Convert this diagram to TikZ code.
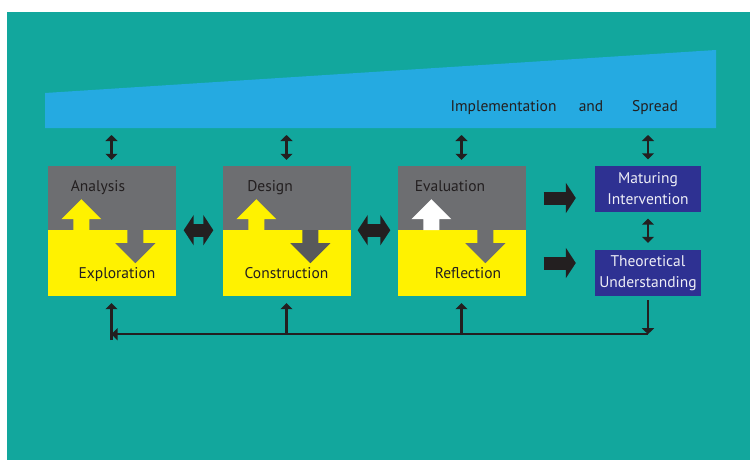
\documentclass[tikz,border=0pt]{standalone}
\usepackage{fontspec}
\setmainfont{PT Sans}
\usetikzlibrary{arrows.meta,calc}

\definecolor{bgteal}{HTML}{12A79D}
\definecolor{wedgeblue}{HTML}{25AAE1}
\definecolor{boxgray}{HTML}{6D6E71}
\definecolor{boxdark}{HTML}{58595B}
\definecolor{boxyellow}{HTML}{FFF200}
\definecolor{navybox}{HTML}{2E3192}
\definecolor{ink}{HTML}{231F20}

\tikzstyle{every node}=[font=\fontsize{15.5}{21}\selectfont, text=ink, inner sep=0pt]
\tikzstyle{lbl}=[anchor=base]
\tikzstyle{graybox}=[fill=boxgray, minimum width=128pt, minimum height=64pt]
\tikzstyle{yellowbox}=[fill=boxyellow, minimum width=128pt, minimum height=66pt]
\tikzstyle{outbox}=[fill=navybox, text=white!92!navybox, minimum width=106pt, minimum height=46pt, align=center]
\tikzstyle{fat}=[draw=ink, line width=13pt]
\tikzset{
  fattip/.tip={Triangle[length=10pt,width=30pt]},
  thintip/.tip={Triangle[length=6pt,width=12pt]},
  link/.style={draw=ink, line width=2.2pt, -thintip}
}

\begin{document}
\begin{tikzpicture}[x=1pt,y=-1pt]
  \useasboundingbox (0,0) rectangle (750,460);
  \fill[bgteal] (7,12) rectangle (750,460);
  % implementation and spread
  \fill[wedgeblue] (45,93) -- (716,50) -- (716,128) -- (45,128) -- cycle;
  \coordinate (ws) at (0,128);
  \node[lbl] (impl) at (503.5,111) {Implementation};
  \node[lbl] (and) at (591,111) {and};
  \node[lbl] (spread) at (655,111) {Spread};

  % the three phases
  \node[graybox] (ana) at (111.5,198) {};
  \node[yellowbox] (exp) at (111.5,263) {};
  \node[graybox] (des) at (286.5,198) {};
  \node[yellowbox] (con) at (286.5,263) {};
  \node[graybox] (eva) at (461.5,198) {};
  \node[yellowbox] (ref) at (461.5,263) {};

  \foreach \g/\up/\dn in {ana/boxyellow/boxgray, des/boxyellow/boxdark, eva/white/boxgray} {
    \fill[\up] ($(\g.south west)+(26,0)$) -- ++(0,-11) -- ++(-12,0) -- ++(20,-20)
      -- ++(20,20) -- ++(-12,0) -- ++(0,11) -- cycle;
    \fill[\dn] ($(\g.south west)+(80,0)$) -- ++(0,13) -- ++(-12,0) -- ++(20,20)
      -- ++(20,-20) -- ++(-12,0) -- ++(0,-13) -- cycle;
  }

  \node[lbl] (analbl) at ([xshift=-13.5pt,yshift=6.5pt]ana.center) {Analysis};
  \node[lbl] (explbl) at ([xshift=5.5pt,yshift=-15pt]exp.center) {Exploration};
  \node[lbl] (deslbl) at ([xshift=-16.5pt,yshift=6.5pt]des.center) {Design};
  \node[lbl] (conlbl) at ([xshift=0pt,yshift=-15pt]con.center) {Construction};
  \node[lbl] (evalbl) at ([xshift=-11.5pt,yshift=6.5pt]eva.center) {Evaluation};
  \node[lbl] (reflbl) at ([xshift=6.5pt,yshift=-15pt]ref.center) {Reflection};

  % outputs
  \node[outbox] (mat) at (648,188.5) {Maturing\\Intervention};
  \node[outbox] (thu) at (648,273) {Theoretical\\Understanding};

  % big arrows
  \draw[fat, fattip-fattip, shorten <=8pt, shorten >=9pt] (ana.south east) -- (des.south west);
  \draw[fat, fattip-fattip, shorten <=7pt, shorten >=7pt] (des.south east) -- (eva.south west);
  \draw[fat, -fattip, shorten <=18pt, shorten >=19pt] (eva.east) -- (eva.east -| mat.west);
  \draw[fat, -fattip, shorten <=18pt, shorten >=19pt] (ref.east) -- (ref.east -| thu.west);

  % links to implementation
  \foreach \b in {ana,des,eva,mat}
    \draw[link, thintip-thintip, shorten <=6pt, shorten >=7pt] (\b.north) -- (\b.north |- ws);
  \draw[link, thintip-thintip, shorten <=7pt, shorten >=7pt] (mat) -- (thu);

  % feedback
  \coordinate (fbr) at ($(thu.south)+(0,38)$);
  \draw[link, shorten <=4pt] (thu.south) -- (fbr);
  \draw[link] (fbr) -- (fbr -| exp.south);
  \draw[link, shorten <=-6pt, shorten >=7pt] (fbr -| exp.south) -- (exp.south);
  \foreach \b in {con,ref}
    \draw[link, shorten >=7pt] (fbr -| \b.south) -- (\b.south);
\end{tikzpicture}
\end{document}
